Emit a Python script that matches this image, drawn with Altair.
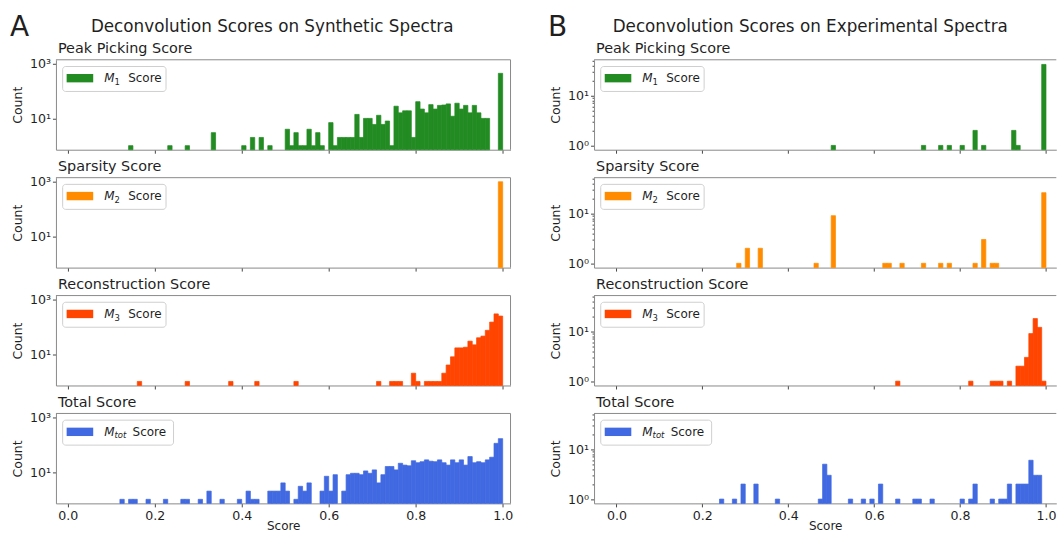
import altair as alt
import pandas as pd

FONT = "DejaVu Sans"
BIN = 0.01  # histogram bin width on the score axis

# ---- Synthetic spectra: histogram bin index (bin starts at index * 0.01) and counts
syn_peak_bins = [14, 23, 27, 33, 40, 42, 44, 46, 50, 51, 52, 53, 54, 55, 56, 57, 58,
                 60, 61, 62, 63, 64, 65, 66, 67, 68, 69, 70, 71, 72, 73, 74, 75, 76, 77,
                 78, 79, 80, 81, 82, 83, 84, 85, 86, 87, 88, 89, 90, 91, 92, 93, 94, 95,
                 96, 99]
syn_peak_counts = [1, 1, 1, 3, 1, 2, 2, 1, 4, 1, 3, 1, 1, 4, 1, 3, 1,
                   7, 1, 2, 2, 2, 2, 14, 2, 10, 10, 6, 13, 6, 8, 1, 28, 16, 19,
                   19, 2, 41, 22, 16, 32, 22, 30, 31, 34, 12, 36, 22, 30, 16, 30, 16, 10,
                   10, 450]

syn_sparse_bins = [99]
syn_sparse_counts = [1000]

syn_recon_bins = [16, 27, 37, 43, 52, 71, 74, 75, 76, 79, 80, 82, 83, 84, 85, 86, 87,
                  88, 89, 90, 91, 92, 93, 94, 95, 96, 97, 98, 99]
syn_recon_counts = [1, 1, 1, 1, 1, 1, 1, 1, 1, 2, 1, 1, 1, 1, 1, 2, 4,
                    8, 17, 17, 18, 30, 22, 40, 46, 75, 150, 300, 250]

syn_total_bins = [12, 14, 15, 18, 22, 26, 27, 30, 32, 35, 39, 41, 42, 43, 46, 47, 48,
                  49, 50, 52, 53, 54, 55, 58, 59, 60, 61, 63, 64, 65, 66, 67, 68, 69,
                  70, 71, 72, 73, 74, 75, 76, 77, 78, 79, 80, 81, 82, 83, 84, 85, 86,
                  87, 88, 89, 90, 91, 92, 93, 94, 95, 96, 97, 98, 99]
syn_total_counts = [1, 1, 1, 1, 1, 1, 1, 1, 2, 1, 1, 2, 1, 1, 2, 2, 2,
                    4, 2, 1, 3, 2, 4, 2, 7, 2, 8, 2, 8, 9, 9, 8, 11, 9,
                    12, 4, 8, 16, 16, 12, 21, 18, 17, 26, 22, 24, 28, 25, 24, 28, 22,
                    18, 28, 22, 28, 18, 37, 22, 24, 22, 28, 35, 113, 168]

# ---- Experimental spectra
exp_peak_bins = [50, 71, 75, 77, 80, 83, 85, 92, 93, 99]
exp_peak_counts = [1, 1, 1, 1, 1, 2, 1, 2, 1, 42]

exp_sparse_bins = [28, 30, 33, 46, 50, 62, 63, 66, 71, 75, 77, 83, 85, 87, 88, 99]
exp_sparse_counts = [1, 2, 2, 1, 9, 1, 1, 1, 1, 1, 1, 1, 3, 1, 1, 26]

exp_recon_bins = [65, 82, 87, 88, 89, 91, 93, 94, 95, 96, 97, 98, 99]
exp_recon_counts = [1, 1, 1, 1, 1, 1, 2, 2, 3, 9, 18, 12, 1]

exp_total_bins = [24, 27, 29, 32, 37, 47, 48, 49, 54, 57, 59, 61, 65, 69, 70, 73, 80,
                  82, 83, 87, 89, 90, 91, 93, 94, 95, 96, 97, 98]
exp_total_counts = [1, 1, 2, 2, 1, 1, 5, 3, 1, 1, 1, 2, 1, 1, 1, 1, 1,
                    1, 2, 1, 1, 1, 2, 2, 2, 2, 6, 3, 3]

panel_titles = ["Peak Picking Score", "Sparsity Score", "Reconstruction Score", "Total Score"]
metric_subs = ["1", "2", "3", "tot"]
metric_colors = ["#228B22", "#FF8C00", "#FF4500", "#4169E1"]
column_titles = {"A": "Deconvolution Scores on Synthetic Spectra",
                 "B": "Deconvolution Scores on Experimental Spectra"}
x_ticks = [0.0, 0.2, 0.4, 0.6, 0.8, 1.0]

# layout of the two columns
W = {"A": 455, "B": 462.7}
H = 90
X_DOMAIN = {"A": [-0.027, 1.018], "B": [-0.052, 1.024]}
Y_DOMAIN = {"A": [0.71, 1410], "B": [0.82, 52]}
FRAME = "#8a8a8a"
TEXT = "#1f1f1f"

one_row = alt.Data(values=[{"k": 0}])


def histogram_panel(col, row, bins, counts):
    color = metric_colors[row]
    sub = metric_subs[row]
    w = W[col]
    bottom = row == 3
    df = pd.DataFrame({"start": [b * BIN for b in bins], "count": counts})
    df["end"] = df["start"] + BIN

    if col == "A":
        y_axis = alt.Axis(values=[10, 1000],
                          labelExpr="datum.value == 1000 ? '10³' : '10¹'",
                          title="Count")
    else:
        y_axis = alt.Axis(values=[1, 2, 3, 4, 5, 6, 7, 8, 9, 10, 20, 30, 40, 50],
                          labelExpr="datum.value == 1 ? '10⁰' : (datum.value == 10 ? '10¹' : '')",
                          tickSize={"condition": {"test": "datum.value == 1 || datum.value == 10",
                                                  "value": 3.5}, "value": 2},
                          labelOverlap=False,
                          title="Count")

    bars = alt.Chart(df).mark_bar(color=color, stroke=color, strokeWidth=0.7).encode(
        x=alt.X("start:Q", scale=alt.Scale(domain=X_DOMAIN[col], nice=False, zero=False),
                axis=alt.Axis(values=x_ticks, format=".1f", labels=bottom,
                              title="Score" if bottom else None)),
        x2="end:Q",
        y=alt.Y("count:Q", scale=alt.Scale(type="log", domain=Y_DOMAIN[col], nice=False),
                axis=y_axis),
        y2=alt.value(H),
    )

    layers = [bars]

    # frame: top edge for every panel, right edge where it falls inside the figure
    layers.append(alt.Chart(one_row).mark_rule(color=FRAME, strokeWidth=1).encode(
        x=alt.value(0), x2=alt.value(w), y=alt.value(0)))
    if col == "A":
        layers.append(alt.Chart(one_row).mark_rule(color=FRAME, strokeWidth=1).encode(
            x=alt.value(w), y=alt.value(0), y2=alt.value(H)))

    # legend box
    box_w = 111 if sub == "tot" else 103.5
    score_x = 76.7 if sub == "tot" else 72.3
    layers.append(alt.Chart(one_row).mark_rect(
        fill="white", fillOpacity=0.8, stroke="#cfcfcf", strokeWidth=1, cornerRadius=3
    ).encode(x=alt.value(6.7), x2=alt.value(6.7 + box_w), y=alt.value(6.7), y2=alt.value(31.7)))
    layers.append(alt.Chart(one_row).mark_rect(color=color).encode(
        x=alt.value(10.7), x2=alt.value(37.3), y=alt.value(14.2), y2=alt.value(22.6)))
    layers.append(alt.Chart(one_row).mark_text(
        text="M", font=FONT, fontStyle="italic", fontSize=12, color=TEXT,
        align="left", baseline="middle").encode(x=alt.value(48.3), y=alt.value(18.7)))
    layers.append(alt.Chart(one_row).mark_text(
        text=sub, font=FONT, fontStyle="italic" if sub == "tot" else "normal",
        fontSize=8.5, color=TEXT, align="left", baseline="middle"
    ).encode(x=alt.value(58.6), y=alt.value(22)))
    layers.append(alt.Chart(one_row).mark_text(
        text="Score", font=FONT, fontSize=12, color=TEXT, align="left", baseline="middle"
    ).encode(x=alt.value(score_x), y=alt.value(18.7)))

    # panel title
    layers.append(alt.Chart(one_row).mark_text(
        text=panel_titles[row], font=FONT, fontSize=14.4, color=TEXT,
        align="left", baseline="alphabetic").encode(x=alt.value(2), y=alt.value(-6.5)))

    if row == 0:
        layers.append(alt.Chart(one_row).mark_text(
            text=column_titles[col], font=FONT, fontSize=16.8, color=TEXT,
            align="center", baseline="alphabetic").encode(x=alt.value(216.4), y=alt.value(-27.5)))
        layers.append(alt.Chart(one_row).mark_text(
            text=col, font=FONT, fontSize=28, color=TEXT,
            align="left", baseline="alphabetic").encode(x=alt.value(-46), y=alt.value(-24)))

    return alt.layer(*layers).properties(width=w, height=H)


synthetic = [(syn_peak_bins, syn_peak_counts), (syn_sparse_bins, syn_sparse_counts),
             (syn_recon_bins, syn_recon_counts), (syn_total_bins, syn_total_counts)]
experimental = [(exp_peak_bins, exp_peak_counts), (exp_sparse_bins, exp_sparse_counts),
                (exp_recon_bins, exp_recon_counts), (exp_total_bins, exp_total_counts)]

panels = []
for r in range(4):
    panels.append(histogram_panel("A", r, *synthetic[r]))
    panels.append(histogram_panel("B", r, *experimental[r]))

chart = alt.concat(
    *panels, columns=2, spacing={"row": 28, "column": 83.6}, bounds="flush"
).properties(
    padding={"left": 10, "top": 13.6, "right": 0, "bottom": 0},
    background="white",
).configure_view(
    stroke=None
).configure_axis(
    grid=False,
    domainColor=FRAME,
    domainWidth=1,
    tickColor="#333333",
    tickSize=3.5,
    tickWidth=0.9,
    labelFont=FONT,
    labelFontSize=12.6,
    labelColor=TEXT,
    labelPadding=2.5,
    titleFont=FONT,
    titleFontSize=12.5,
    titleFontWeight="normal",
    titleColor=TEXT,
).configure_axisY(
    titlePadding=5,
    labelPadding=2,
).configure_axisX(
    titlePadding=-1,
    titleFontSize=12,
)

chart.save("out.html", embed_options={"renderer": "svg", "actions": False})
